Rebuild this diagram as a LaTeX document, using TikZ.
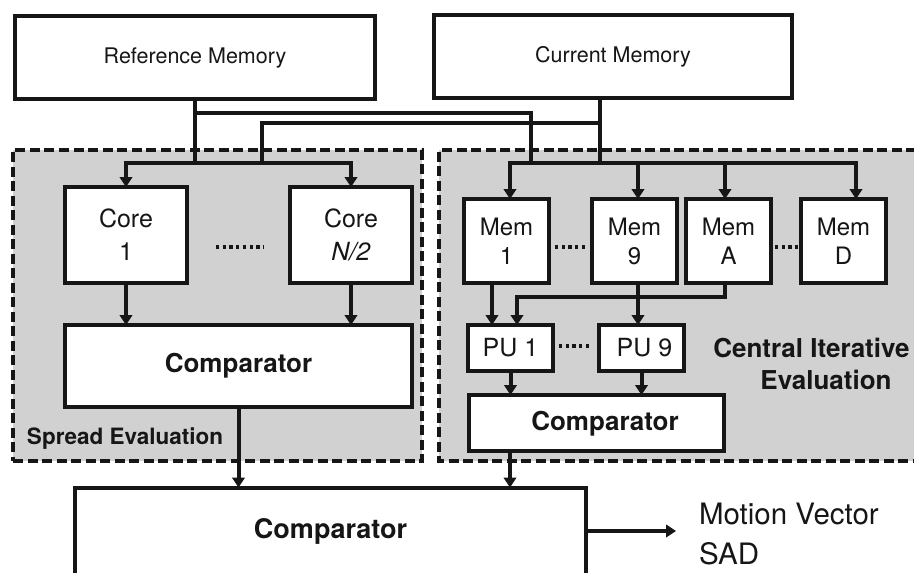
\documentclass[tikz,border=0pt]{standalone}
\usepackage{fontspec}
\setmainfont{TeX Gyre Heros}
\usetikzlibrary{arrows.meta}
\definecolor{panelgray}{RGB}{209,209,209}
\definecolor{ink}{RGB}{22,22,22}
\newcommand\myfs[2]{\fontsize{#1}{#2}\selectfont}
\begin{document}
\begin{tikzpicture}[x=1pt,y=-1pt,
  box/.style={draw=ink,line width=4pt,fill=white,inner sep=0pt,outer sep=0pt,align=center,text=ink},
  wire/.style={draw=ink,line width=4pt,line cap=rect,line join=miter},
  arr/.style={wire,-{Triangle[width=12.5pt,length=10pt]}},
  dotline/.style={draw=ink,line width=3.3pt,dash pattern=on 3.3pt off 3.4pt},
  panel/.style={draw=ink,line width=4.3pt,dash pattern=on 10pt off 4.5pt},
  lbl/.style={inner sep=0pt,outer sep=0pt,text=ink}
]
\useasboundingbox (0,0) rectangle (914,573);

% panels
\node[panel,fill=panelgray,minimum width=409pt,minimum height=311pt,inner sep=0pt,outer sep=0pt] (spread) at (217.5,305.5) {};
\fill[panelgray] (439,150) rectangle (914,461);
\draw[panel] (916,150) -- (439,150) -- (439,461) -- (916,461);

% memories
\node[box,minimum width=360pt,minimum height=83pt,font=\myfs{21.5}{26}] (refmem) at (195,57.5) {Reference Memory};
\node[box,minimum width=358pt,minimum height=83pt,font=\myfs{21.5}{26}] (curmem) at (613,56.5) {Current Memory};

% spread evaluation
\node[box,minimum width=122pt,minimum height=96pt,font=\myfs{25}{33}] (core1) at (126,235) {Core\\1};
\node[box,minimum width=122pt,minimum height=96pt,font=\myfs{25}{33}] (coreN) at (351,235) {Core\\\textit{N/2}};
\node[box,minimum width=347pt,minimum height=82pt,font=\myfs{26}{30}\bfseries] (comp1) at (238.5,366) {Comparator};
\node[lbl,anchor=west,font=\myfs{22.5}{26}\bfseries] (spreadlbl) at (27,439) {Spread Evaluation};

% central iterative evaluation
\node[box,minimum width=85pt,minimum height=84pt,font=\myfs{24}{29}] (mem1) at (506.5,241) {Mem\\1};
\node[box,minimum width=85pt,minimum height=84pt,font=\myfs{24}{29}] (mem9) at (634.5,241) {Mem\\9};
\node[box,minimum width=85pt,minimum height=84pt,font=\myfs{24}{29}] (memA) at (728.5,241) {Mem\\A};
\node[box,minimum width=85pt,minimum height=84pt,font=\myfs{24}{29}] (memD) at (843.5,241) {Mem\\D};
\node[box,minimum width=85pt,minimum height=46pt,font=\myfs{25}{30}] (pu1) at (510.5,348) {PU 1};
\node[box,minimum width=85pt,minimum height=46pt,font=\myfs{25}{30}] (pu9) at (641.5,348) {\hspace*{6pt}PU 9};
\node[box,minimum width=255pt,minimum height=56pt] (comp2) at (596.5,423) {};
\node[lbl,font=\myfs{26}{30}\bfseries] (comp2txt) at (605,424) {Comparator};
\node[lbl,font=\myfs{26}{30}\bfseries] (cie1) at (811.5,348) {Central Iterative};
\node[lbl,font=\myfs{26}{30}\bfseries] (cie2) at (826,380) {Evaluation};

% final comparator
\node[box,minimum width=511pt,minimum height=87pt,font=\myfs{27}{30}\bfseries] (main) at (330.5,531) {Comparator};
\node[lbl,anchor=west,align=left,font=\myfs{29.5}{40}] (outlbl) at (699,534) {Motion Vector\\SAD};

% coordinates for wiring
\coordinate (sbm) at (195,163);
\coordinate (j1) at (195,113);
\coordinate (j2) at (531,113);
\coordinate (cbm) at (531,163);
\coordinate (k0) at (600,100);
\coordinate (k1) at (600,123);
\coordinate (k2) at (262,123);
\coordinate (kb) at (600,163);
\coordinate (sb2) at (262,163);
\coordinate (sbL) at (126,163);
\coordinate (sbR) at (351,163);
\coordinate (cL) at (510,163);
\coordinate (c9) at (638,163);
\coordinate (cA) at (725,163);
\coordinate (cD) at (856,163);
\coordinate (m1x) at (492,0);
\coordinate (m9x) at (638,0);
\coordinate (mAx) at (725,0);
\coordinate (mAturn) at (725,297);
\coordinate (puturn) at (517,297);
\coordinate (c2x) at (510,0);
\coordinate (outtip) at (676,531);

% top wiring
\draw[wire] (refmem.south) -- (sbm);
\draw[wire] (j1) -- (j2) -- (cbm);
\draw[wire] (k0) -- (kb);
\draw[wire] (k1) -- (k2) -- (sb2);
\draw[wire] (sbL) -- (sbR);
\draw[wire] (cL) -- (cD);
\draw[arr] (sbL) -- (core1);
\draw[arr] (sbR) -- (coreN);
\draw[arr] (cL) -- (cL |- mem1.north);
\draw[arr] (c9) -- (c9 |- mem9.north);
\draw[arr] (cA) -- (cA |- memA.north);
\draw[arr] (cD) -- (cD |- memD.north);

% spread internal
\draw[arr] (core1) -- (core1.south |- comp1.north);
\draw[arr] (coreN) -- (coreN.south |- comp1.north);
\draw[dotline] (216,247) -- (264,247);

% central internal
\draw[dotline] (555,247) -- (588,247);
\draw[dotline] (775,247) -- (799,247);
\draw[dotline] (559,346) -- (592,346);
\draw[arr] (m1x |- mem1.south) -- (m1x |- pu1.north);
\draw[arr] (m9x |- mem9.south) -- (m9x |- pu9.north);
\draw[arr] (mAx |- memA.south) -- (mAturn) -- (puturn) -- (puturn |- pu1.north);
\draw[arr] (pu1.south) -- (pu1.south |- comp2.north);
\draw[arr] (pu9.south) -- (pu9.south |- comp2.north);

% to final comparator
\draw[arr] (comp1.south) -- (comp1.south |- main.north);
\draw[arr] (c2x |- comp2.south) -- (c2x |- main.north);
\draw[arr] (main.east) -- (outtip);
\end{tikzpicture}
\end{document}
